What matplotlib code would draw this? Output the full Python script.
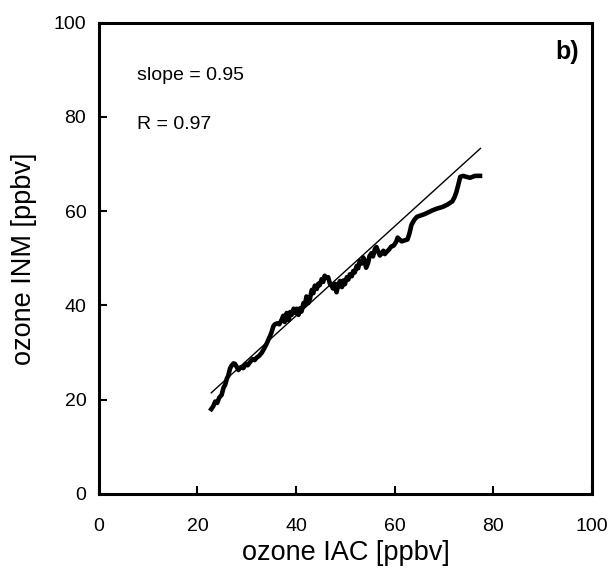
import numpy as np
import matplotlib.pyplot as plt

# ozone comparison, IAC vs INM
iac = [22.8, 23.2, 23.6, 24.0, 24.4, 24.9, 25.3, 25.6, 26.0, 26.2, 26.6, 26.9, 27.3,
       27.6, 28.0, 28.3, 28.8, 29.3, 29.8, 30.2, 30.6, 31.2, 31.6, 32.0, 32.5, 33.0,
       33.5, 34.0, 34.5, 35.0, 35.4, 35.7, 36.2, 36.6, 37.1, 37.4, 37.7, 38.1, 38.5,
       38.8, 39.1, 39.5, 39.8, 40.1, 40.5, 40.8, 41.1, 41.5, 41.8, 42.1, 42.5, 42.8,
       43.2, 43.5, 43.8, 44.2, 44.5, 44.8, 45.2, 45.5, 45.8, 46.2, 46.5, 46.9, 47.2,
       47.5, 47.9, 48.2, 48.6, 48.9, 49.3, 49.6, 49.9, 50.3, 50.6, 50.9, 51.3, 51.6,
       51.9, 52.3, 52.6, 52.9, 53.3, 53.6, 53.9, 54.2, 54.6, 54.9, 55.3, 55.6, 56.0,
       56.3, 56.7, 57.0, 57.3, 57.7, 58.0, 58.3, 58.8, 59.3, 59.8, 60.3, 60.6, 61.0,
       61.4, 62.0, 62.6, 63.0, 63.4, 64.0, 64.5, 65.3, 66.1, 66.9, 67.7, 68.7, 69.7,
       70.7, 71.7, 72.1, 72.5, 72.9, 73.3, 73.9, 74.5, 75.3, 76.3, 77.3]
inm = [18.0, 18.6, 19.6, 19.3, 20.4, 21.0, 22.6, 23.1, 24.6, 24.9, 26.6, 27.2, 27.7,
       27.6, 26.9, 26.3, 26.9, 26.7, 27.6, 27.3, 27.9, 28.6, 28.4, 28.9, 29.3, 29.9,
       30.8, 31.8, 33.0, 34.2, 35.6, 36.0, 36.2, 36.0, 37.0, 37.8, 36.5, 38.4, 36.9,
       38.6, 38.0, 39.3, 38.4, 39.3, 38.0, 39.4, 38.7, 40.5, 40.0, 41.9, 40.5, 41.4,
       43.3, 42.6, 44.2, 43.5, 44.6, 44.3, 45.6, 45.0, 46.3, 45.9, 46.0, 44.5, 44.2,
       43.6, 44.6, 42.8, 44.4, 45.2, 43.9, 45.3, 44.5, 46.0, 45.5, 46.6, 46.2, 47.3,
       47.0, 48.4, 47.9, 49.4, 48.9, 50.2, 49.6, 48.0, 49.0, 50.5, 51.1, 50.4, 52.0,
       52.4, 51.3, 50.6, 51.0, 51.6, 50.9, 51.3, 51.8, 52.5, 52.7, 53.5, 54.4, 54.0,
       53.6, 53.8, 54.0, 55.3, 57.1, 58.2, 58.8, 59.1, 59.4, 59.8, 60.2, 60.6, 60.9,
       61.4, 62.1, 62.9, 64.0, 65.6, 67.3, 67.5, 67.3, 67.1, 67.5, 67.5]

slope = 0.95
intercept = -0.2
fit_x = [22.8, 77.4]
slope_txt = 'slope = 0.95'
r_txt = 'R = 0.97'

plt.rcParams['font.family'] = ['Liberation Sans', 'DejaVu Sans']

fig = plt.figure(figsize=(6.14, 5.69), dpi=100)
ax = fig.add_axes([0.161, 0.132, 0.803, 0.828])

fx = np.array(fit_x)
ax.plot(fx, slope * fx + intercept, color='black', lw=1.0)
ax.plot(iac, inm, color='black', lw=3.3, solid_joinstyle='round')

ax.set_xlim(0, 100)
ax.set_ylim(0, 100)
ax.set_xticks(np.arange(0, 101, 20))
ax.set_yticks(np.arange(0, 101, 20))
ax.tick_params(direction='in', length=6, width=1.5, labelsize=14)
ax.tick_params(axis='x', pad=17)
ax.tick_params(axis='y', pad=9)
for s in ax.spines.values():
    s.set_linewidth(2.2)

ax.set_xlabel('ozone IAC [ppbv]', fontsize=19.5, labelpad=4)
ax.set_ylabel('ozone INM [ppbv]', fontsize=19.5, labelpad=12)

ax.text(7.7, 88.7, slope_txt, fontsize=14, va='center', ha='left')
ax.text(7.7, 78.4, r_txt, fontsize=14, va='center', ha='left')
ax.text(97.4, 93.8, 'b)', fontsize=18, fontweight='bold', va='center', ha='right')

plt.savefig('out.png', dpi=100)
